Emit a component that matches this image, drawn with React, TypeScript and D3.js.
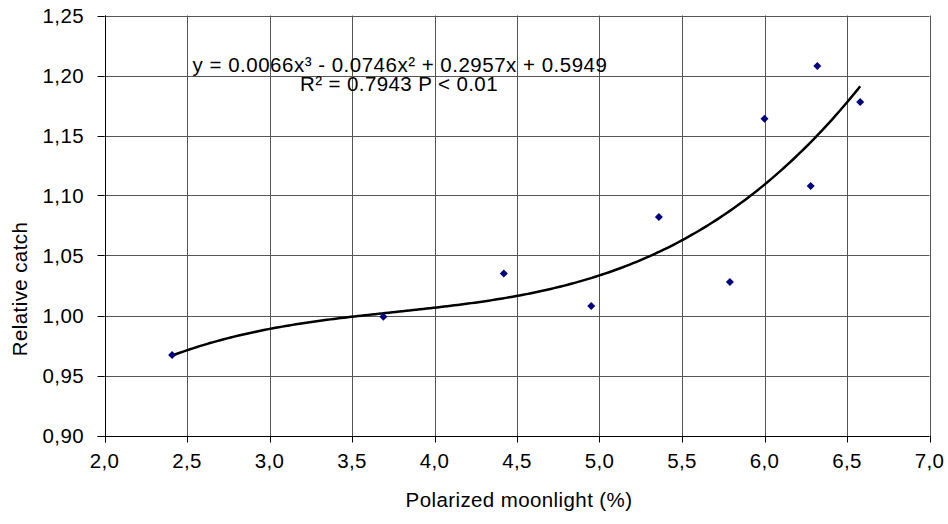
import React, { useEffect } from "react";
import * as d3 from "d3";

const xValues = [2.41, 3.69, 4.42, 4.95, 5.36, 5.79, 6.0, 6.28, 6.32, 6.58];
const yValues = [0.967, 0.999, 1.035, 1.008, 1.082, 1.028, 1.164, 1.108, 1.208, 1.178];
const fitCoefficients = [0.0066, -0.0746, 0.2957, 0.5949];
const xTicks = [2.0, 2.5, 3.0, 3.5, 4.0, 4.5, 5.0, 5.5, 6.0, 6.5, 7.0];
const yTicks = [0.9, 0.95, 1.0, 1.05, 1.1, 1.15, 1.2, 1.25];
const equationText = "y = 0.0066x³ - 0.0746x² + 0.2957x + 0.5949";
const r2Text = "R² = 0.7943 P < 0.01";
const xLabel = "Polarized moonlight (%)";
const yLabel = "Relative catch";

const W = 948;
const H = 524;
const FONT = "'Liberation Sans', Arial, sans-serif";

export default function App() {
  useEffect(() => {
    document.body.style.margin = "0";
  }, []);

  const x = d3.scaleLinear().domain([2, 7]).range([104.5, 929.5]);
  const y = d3.scaleLinear().domain([0.9, 1.25]).range([435.5, 15.5]);

  const fit = (v: number) =>
    fitCoefficients[0] * v * v * v + fitCoefficients[1] * v * v + fitCoefficients[2] * v + fitCoefficients[3];
  const xmin = d3.min(xValues) as number;
  const xmax = d3.max(xValues) as number;
  const samples = d3.range(0, 201).map((i) => xmin + ((xmax - xmin) * i) / 200);
  const line = d3
    .line<number>()
    .x((v) => x(v))
    .y((v) => y(fit(v)));

  const fmtX = (v: number) => v.toFixed(1).replace(".", ",");
  const fmtY = (v: number) => v.toFixed(2).replace(".", ",");
  const diamond = "M0,-4L4,0L0,4L-4,0Z";

  const fs = 20.5;
  const ls = 0.4;
  return (
    <svg width={W} height={H} style={{ display: "block" }} fontFamily={FONT}>
      <rect x={0} y={0} width={W} height={H} fill="#fff" />
      {/* grid */}
      {xTicks.map((t) => (
        <line key={"gx" + t} x1={Math.round(x(t)) + 0.5} x2={Math.round(x(t)) + 0.5} y1={y(1.25)} y2={y(0.9)} stroke="#555" strokeWidth={1} />
      ))}
      {yTicks.map((t) => (
        <line key={"gy" + t} x1={x(2)} x2={x(7)} y1={Math.round(y(t)) + 0.5} y2={Math.round(y(t)) + 0.5} stroke="#555" strokeWidth={1} />
      ))}
      {/* axes */}
      <line x1={Math.round(x(2)) + 0.5} x2={Math.round(x(2)) + 0.5} y1={y(1.25)} y2={y(0.9) + 7} stroke="#000" />
      <line x1={x(2) - 7} x2={x(7)} y1={Math.round(y(0.9)) + 0.5} y2={Math.round(y(0.9)) + 0.5} stroke="#000" />
      {xTicks.map((t) => (
        <g key={"tx" + t}>
          <line x1={Math.round(x(t)) + 0.5} x2={Math.round(x(t)) + 0.5} y1={y(0.9)} y2={y(0.9) + 7} stroke="#000" />
          <text x={x(t)} y={468} textAnchor="middle" fontSize={fs} letterSpacing={ls} fill="#000">
            {fmtX(t)}
          </text>
        </g>
      ))}
      {yTicks.map((t) => (
        <g key={"ty" + t}>
          <line x1={x(2) - 7} x2={x(2)} y1={Math.round(y(t)) + 0.5} y2={Math.round(y(t)) + 0.5} stroke="#000" />
          <text x={84} y={y(t) + 7.5} textAnchor="end" fontSize={fs} letterSpacing={ls} fill="#000">
            {fmtY(t)}
          </text>
        </g>
      ))}
      {/* fit curve */}
      <path d={line(samples) as string} fill="none" stroke="#000" strokeWidth={2.5} />
      {/* points */}
      {xValues.map((v, i) => (
        <path key={"p" + i} d={diamond} transform={`translate(${x(v)},${y(yValues[i])})`} fill="#000080" />
      ))}
      {/* equation */}
      <text x={400} y={72} textAnchor="middle" fontSize={fs} letterSpacing={0.5} fill="#000">
        {equationText}
      </text>
      <text x={399} y={91} textAnchor="middle" fontSize={fs} letterSpacing={ls} fill="#000">
        {r2Text}
      </text>
      {/* axis labels */}
      <text x={519} y={507} textAnchor="middle" fontSize={fs} letterSpacing={ls} fill="#000">
        {xLabel}
      </text>
      <text transform={`translate(27,289) rotate(-90)`} textAnchor="middle" fontSize={fs} letterSpacing={ls} fill="#000">
        {yLabel}
      </text>
    </svg>
  );
}
